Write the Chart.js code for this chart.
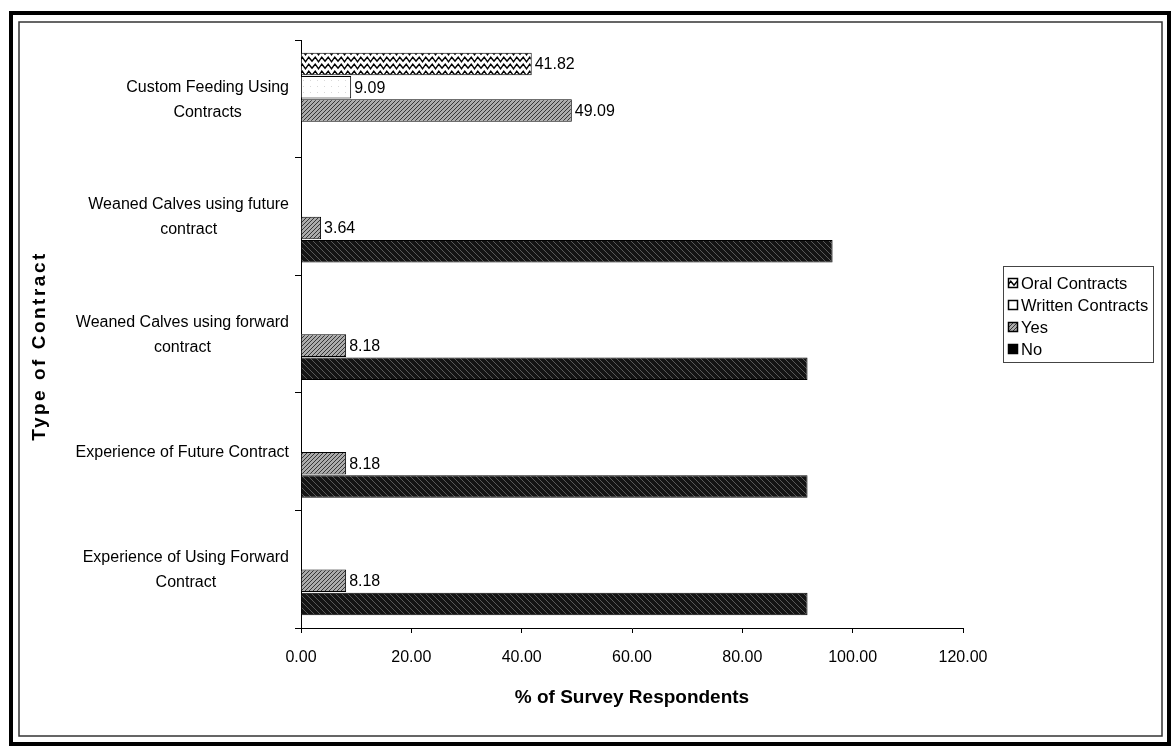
<!DOCTYPE html>
<html>
<head>
<meta charset="utf-8">
<title>Type of Contract</title>
<script src="https://cdn.jsdelivr.net/npm/chart.js@4.4.1/dist/chart.umd.min.js"></script>
<style>
  html, body { margin: 0; padding: 0; background: #fff; }
  canvas { display: block; }
</style>
</head>
<body>
<canvas id="chart" width="1171" height="747"></canvas>
<script>
// Contract categories, top to bottom (each entry is one wrapped label)
const categories = [
  ['Custom Feeding Using', 'Contracts'],
  ['Weaned Calves using future', 'contract'],
  ['Weaned Calves using forward', 'contract'],
  ['Experience of Future Contract'],
  ['Experience of Using Forward', 'Contract']
];
const seriesNames = ['Oral Contracts', 'Written Contracts', 'Yes', 'No'];
// % of survey respondents per series
const oralValues    = [41.82, null, null, null, null];
const writtenValues = [9.09, null, null, null, null];
const yesValues     = [49.09, 3.64, 8.18, 8.18, 8.18];
const noValues      = [null, 96.36, 91.82, 91.82, 91.82];
const xTickValues   = [0, 20, 40, 60, 80, 100, 120];
// which series carry value labels
const labelledSeries = [true, true, true, false];
const yTitle = 'Type of Contract';
const xTitle = '% of Survey Respondents';

const FONT = "'Liberation Sans', Arial, Helvetica, sans-serif";

function makePattern(w, h, paint) {
  const c = document.createElement('canvas');
  c.width = w; c.height = h;
  const g = c.getContext('2d');
  paint(g, w, h);
  return g.createPattern(c, 'repeat');
}

const ctx = document.getElementById('chart').getContext('2d');

// wavy zigzag on white
const oralFill = makePattern(13, 7, (g, w, h) => {
  g.fillStyle = '#fff'; g.fillRect(0, 0, w, h);
  g.strokeStyle = '#000'; g.lineWidth = 1.4;
  g.beginPath();
  g.moveTo(-0.5, 5.8); g.lineTo(3.25, 1.2); g.lineTo(6.5, 5.8); g.lineTo(9.75, 1.2); g.lineTo(13.5, 5.8);
  g.stroke();
});
// sparse dots on white
const writtenFill = makePattern(7, 6, (g, w, h) => {
  g.fillStyle = '#fff'; g.fillRect(0, 0, w, h);
  g.fillStyle = '#d8d8d8'; g.fillRect(2, 2, 1, 1);
});
// grey diagonal hatch
const yesFill = makePattern(4, 4, (g, w, h) => {
  g.fillStyle = '#ababab'; g.fillRect(0, 0, w, h);
  g.strokeStyle = '#353535'; g.lineWidth = 1;
  g.beginPath();
  g.moveTo(-1, 5); g.lineTo(5, -1);
  g.stroke();
});
// near-black with faint streaks
const noFill = makePattern(6, 6, (g, w, h) => {
  g.fillStyle = '#141414'; g.fillRect(0, 0, w, h);
  g.strokeStyle = '#6a6a6a'; g.lineWidth = 0.8;
  g.beginPath();
  g.moveTo(-1, -1); g.lineTo(7, 7);
  g.stroke();
});
const legendFills = [oralFill, '#fff', yesFill, '#000'];

const fills = [oralFill, writtenFill, yesFill, noFill];
const seriesValues = [oralValues, writtenValues, yesValues, noValues];

// page frame: thick outer rule and thin inner rule
const framePlugin = {
  id: 'frame',
  beforeDraw(chart) {
    const c = chart.ctx;
    c.save();
    c.fillStyle = '#fff';
    c.fillRect(0, 0, chart.width, chart.height);
    c.restore();
  },
  afterDraw(chart) {
    const c = chart.ctx;
    c.save();
    c.strokeStyle = '#000';
    c.lineWidth = 4;
    c.strokeRect(11, 13, 1158, 731);
    c.strokeStyle = '#333';
    c.lineWidth = 1.5;
    c.strokeRect(19, 22, 1143, 714);
    c.restore();
  }
};

// category labels: each block right-aligned to the axis, lines centred in it
const categoryLabelPlugin = {
  id: 'categoryLabels',
  afterDraw(chart) {
    const c = chart.ctx;
    const ys = chart.scales.y;
    const lh = 25;
    c.save();
    c.font = '16px ' + FONT;
    c.fillStyle = '#000';
    c.textAlign = 'center';
    c.textBaseline = 'middle';
    chart.data.labels.forEach((lines, i) => {
      const yc = ys.getPixelForTick(i);
      const widest = Math.max(...lines.map(t => c.measureText(t).width));
      const xc = ys.right - 12 - widest / 2;
      lines.forEach((t, k) => {
        c.fillText(t, xc, yc + 1 + (k - (lines.length - 1) / 2) * lh);
      });
    });
    // rotated, letter-spaced axis title
    c.save();
    c.font = 'bold 19px ' + FONT;
    c.letterSpacing = '2.5px';
    c.translate(ys.left + 20, (ys.top + ys.bottom) / 2 + 12);
    c.rotate(-Math.PI / 2);
    c.fillText(yTitle, 0, 0);
    c.restore();
    c.restore();
  }
};

// value labels at the end of each labelled bar
const valueLabelPlugin = {
  id: 'valueLabels',
  afterDatasetsDraw(chart) {
    const c = chart.ctx;
    c.save();
    c.font = '16px ' + FONT;
    c.fillStyle = '#000';
    c.textAlign = 'left';
    c.textBaseline = 'middle';
    chart.data.datasets.forEach((ds, di) => {
      if (!labelledSeries[di]) return;
      const meta = chart.getDatasetMeta(di);
      meta.data.forEach((bar, i) => {
        const v = ds.data[i];
        if (v === null || v === undefined) return;
        c.fillText(v.toFixed(2), bar.x + 3, bar.y + 1);
      });
    });
    c.restore();
  }
};

// boxed legend to the right of the plot
const legendPlugin = {
  id: 'boxLegend',
  afterDraw(chart) {
    const c = chart.ctx;
    const bx = 1003, by = 266, bw = 150, bh = 96;
    c.save();
    c.strokeStyle = '#444';
    c.lineWidth = 1;
    c.strokeRect(bx + 0.5, by + 0.5, bw, bh);
    c.font = '16.5px ' + FONT;
    c.textAlign = 'left';
    c.textBaseline = 'middle';
    chart.data.datasets.forEach((ds, i) => {
      const y = by + 17 + i * 22;
      c.fillStyle = legendFills[i];
      c.fillRect(bx + 5, y - 5, 10, 10);
      c.strokeStyle = '#000';
      c.lineWidth = 1.5;
      c.strokeRect(bx + 5.5, y - 4.5, 9, 9);
      c.fillStyle = '#000';
      c.fillText(ds.label, bx + 18, y + 1);
    });
    c.restore();
  }
};

new Chart(ctx, {
  type: 'bar',
  data: {
    labels: categories,
    datasets: seriesNames.map((name, i) => ({
      label: name,
      data: seriesValues[i],
      backgroundColor: fills[i],
      borderColor: '#000',
      borderWidth: 1,
      categoryPercentage: 0.79,
      barPercentage: 0.97
    }))
  },
  options: {
    responsive: false,
    animation: false,
    indexAxis: 'y',
    layout: { padding: { left: 20, top: 40, right: 208, bottom: 0 } },
    plugins: {
      legend: { display: false },
      tooltip: { enabled: false }
    },
    scales: {
      x: {
        min: 0,
        max: 120,
        afterBuildTicks: s => { s.ticks = xTickValues.map(v => ({ value: v })); },
        afterFit: s => { s.height = 119; },
        ticks: {
          callback: v => Number(v).toFixed(2),
          font: { family: FONT, size: 16 },
          color: '#000',
          padding: 15,
          maxRotation: 0
        },
        grid: { drawOnChartArea: false, tickLength: 5, color: '#000' },
        border: { color: '#000', width: 1 },
        title: {
          display: true,
          text: xTitle,
          font: { family: FONT, size: 19, weight: 'bold' },
          color: '#000',
          padding: { top: 0, bottom: 38 }
        }
      },
      y: {
        afterFit: s => { s.width = 281; },
        ticks: { display: false },
        grid: { drawOnChartArea: false, tickLength: 6, color: '#000', offset: true },
        border: { color: '#000', width: 1 },
        title: { display: false, text: yTitle }
      }
    }
  },
  plugins: [framePlugin, categoryLabelPlugin, valueLabelPlugin, legendPlugin]
});
</script>
</body>
</html>
